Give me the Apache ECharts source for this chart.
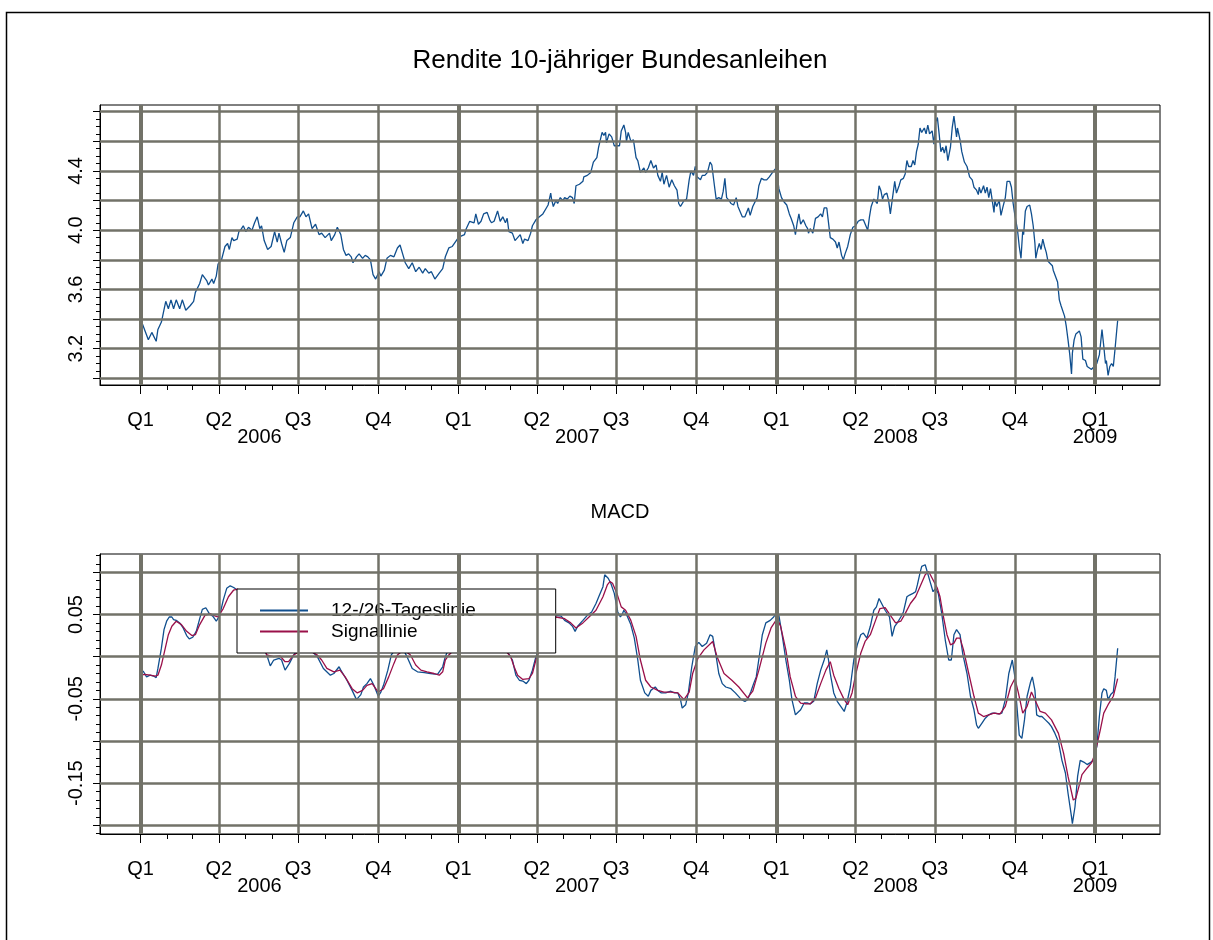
<!DOCTYPE html>
<html>
<head>
<meta charset="utf-8">
<title>Rendite 10-jähriger Bundesanleihen / MACD</title>
<script src="https://cdn.jsdelivr.net/npm/echarts@6/dist/echarts.min.js"></script>
<style>
  html, body { margin: 0; padding: 0; background: #fff; }
  #chart { width: 1213px; height: 940px; }
</style>
</head>
<body>
<div id="chart"></div>
<script>
// x = Tage seit 1.1.2006
const yieldDays = [
  0,2,9,13,18,20,24,29,32,35,38,41,45,48,52,57,61,63,68,71,76,78,82,84,87,89,93,97,100,102,
  105,107,111,113,116,118,121,124,128,131,134,137,139,142,146,150,154,157,159,162,165,168,172,176,180,183,187,190,193,197,
  201,205,208,212,217,219,223,226,230,233,236,239,242,244,248,251,255,258,261,264,267,270,274,276,280,283,287,291,295,298,
  301,304,308,312,316,320,324,327,331,334,338,343,347,350,354,358,
  360,365,368,372,374,378,380,383,385,388,391,394,398,401,403,406,410,413,416,419,421,423,427,430,433,436,439,441,445,448,
  450,454,458,462,466,468,471,472,474,477,479,482,485,487,490,493,496,498,500,504,508,509,513,517,520,524,526,528,530,532,
  534,535,538,541,544,547,550,552,555,557,558,560,563,566,569,571,574,578,580,583,586,589,592,594,597,599,601,604,607,610,
  613,616,618,620,624,627,630,632,635,637,639,643,645,648,651,654,656,659,661,664,667,669,671,673,676,678,681,684,686,688,
  691,694,696,698,700,703,705,708,710,713,716,719,722,724,727,730,732,
  733,736,739,742,745,747,750,752,754,756,758,761,764,766,767,769,772,775,778,781,783,785,788,790,792,795,798,800,802,805,
  807,809,812,815,818,821,824,827,830,832,835,837,839,842,844,846,848,850,852,854,857,859,861,863,866,868,871,873,876,878,
  880,882,885,887,889,891,893,895,897,900,902,904,906,909,911,913,915,917,919,921,923,925,927,930,932,934,937,938,941,943,
  946,949,952,955,957,960,962,963,965,968,970,972,974,976,978,980,981,983,986,988,990,993,995,998,1000,1002,1004,1006,1007,1009,
  1011,1013,1014,1016,1018,1021,1023,1025,1027,1028,1030,1032,1034,1036,1038,1040,1042,1044,1047,1048,1050,1053,1055,1057,1059,1061,1063,1065,1067,1069,
  1070,1072,1074,1076,1078,1080,1082,1085,1087,1089,1092,1095,1098,1101,1104,1106,1108,1109,1111,1113,1115,1117,1119,1121,1122
];
const yieldValues = [
  3.29,3.37,3.26,3.31,3.25,3.33,3.38,3.52,3.47,3.53,3.47,3.53,3.47,3.53,3.46,3.49,3.52,3.58,3.64,3.70,3.66,3.63,3.67,3.64,3.69,3.77,3.80,3.89,3.91,3.87,
  3.95,3.93,3.94,3.99,4.01,4.03,3.99,4.02,4.00,4.05,4.09,4.01,4.03,3.93,3.87,3.89,3.99,3.92,3.98,3.91,3.85,3.93,3.95,4.05,4.09,4.09,4.13,4.09,4.11,4.01,
  4.04,3.97,3.98,3.95,3.98,3.93,3.97,4.02,3.97,3.87,3.83,3.84,3.82,3.78,3.82,3.84,3.81,3.83,3.82,3.80,3.70,3.67,3.72,3.69,3.73,3.81,3.83,3.82,3.88,3.90,
  3.84,3.78,3.74,3.78,3.72,3.75,3.71,3.74,3.71,3.72,3.67,3.71,3.74,3.82,3.88,3.89,
  3.90,3.95,3.96,3.97,4.01,4.06,4.07,4.05,4.11,4.04,4.06,4.11,4.12,4.07,4.05,4.06,4.13,4.06,4.09,4.05,4.08,3.99,3.98,3.93,3.95,3.97,3.91,3.94,3.93,3.98,
  4.03,4.07,4.09,4.11,4.15,4.17,4.25,4.21,4.16,4.20,4.18,4.22,4.20,4.22,4.21,4.23,4.22,4.18,4.30,4.31,4.33,4.36,4.37,4.39,4.46,4.49,4.56,4.55,4.66,4.64,
  4.66,4.59,4.65,4.63,4.57,4.57,4.57,4.67,4.71,4.66,4.60,4.66,4.60,4.61,4.49,4.47,4.39,4.42,4.39,4.42,4.47,4.42,4.44,4.37,4.33,4.39,4.31,4.37,4.29,4.34,
  4.30,4.27,4.18,4.16,4.20,4.21,4.34,4.40,4.37,4.43,4.36,4.34,4.37,4.37,4.39,4.46,4.44,4.30,4.21,4.22,4.21,4.26,4.35,4.22,4.20,4.18,4.17,4.22,4.16,4.15,
  4.09,4.09,4.08,4.15,4.10,4.16,4.16,4.22,4.30,4.35,4.34,4.34,4.36,4.37,4.40,4.42,4.42,
  4.28,4.22,4.19,4.17,4.11,4.08,4.03,3.97,4.05,4.11,4.04,4.07,4.03,4.01,3.98,4.01,3.98,4.08,4.09,4.11,4.09,4.15,4.15,4.15,3.95,3.94,3.92,3.88,3.92,3.83,
  3.80,3.84,3.89,3.97,4.02,4.03,4.06,4.07,4.07,4.08,4.00,4.09,4.16,4.21,4.22,4.18,4.30,4.27,4.21,4.24,4.25,4.20,4.11,4.10,4.33,4.25,4.30,4.34,4.35,4.38,
  4.47,4.43,4.43,4.47,4.44,4.53,4.58,4.69,4.66,4.69,4.65,4.71,4.65,4.67,4.58,4.73,4.76,4.65,4.53,4.56,4.52,4.57,4.47,4.56,4.69,4.77,4.63,4.69,4.61,4.53,
  4.46,4.43,4.36,4.34,4.29,4.27,4.24,4.29,4.25,4.30,4.25,4.29,4.22,4.28,4.20,4.12,4.20,4.16,4.20,4.10,4.15,4.22,4.33,4.33,4.29,4.18,4.10,4.11,4.00,3.89,
  3.81,4.00,3.97,4.13,4.16,4.17,4.11,4.03,3.91,3.81,3.87,3.91,3.87,3.94,3.89,3.85,3.79,3.78,3.76,3.73,3.74,3.65,3.53,3.49,3.49,3.42,3.35,3.26,3.16,3.03,
  3.17,3.26,3.30,3.29,3.32,3.28,3.13,3.12,3.08,3.07,3.06,3.08,3.10,3.16,3.33,3.22,3.10,3.12,3.02,3.08,3.10,3.08,3.20,3.33,3.39
];

// MACD: [Tag, Wert]
const macdLine = [
  [0,-0.022],[3,-0.017],[7,-0.024],[11,-0.022],[15,-0.023],[18,-0.025],[20,-0.014],[24,0.010],[27,0.032],[30,0.042],
  [33,0.047],[36,0.047],[38,0.044],[41,0.043],[45,0.040],[49,0.034],[53,0.025],[56,0.021],[60,0.023],[64,0.030],
  [68,0.045],[71,0.056],[75,0.058],[79,0.051],[83,0.048],[87,0.042],[91,0.049],[95,0.067],[99,0.081],[103,0.084],
  [107,0.082],[111,0.079],[118,0.070],[126,0.050],[134,0.030],[141,0.010],[145,0.002],[149,-0.011],[153,-0.004],[159,-0.002],
  [162,-0.004],[166,-0.016],[171,-0.008],[176,0.002],[182,0.010],[189,0.012],[197,0.006],[203,0.000],[210,-0.014],[218,-0.022],
  [222,-0.020],[228,-0.012],[230,-0.016],[237,-0.028],[243,-0.040],[248,-0.051],[253,-0.045],[256,-0.036],[260,-0.032],[264,-0.026],
  [268,-0.034],[273,-0.047],[276,-0.042],[279,-0.034],[284,-0.016],[288,0.002],[295,0.012],[301,0.010],[306,0.000],[312,-0.014],
  [318,-0.018],[326,-0.019],[333,-0.020],[341,-0.021],[347,-0.012],[350,0.000],[356,0.015],[370,0.025],[385,0.030],[400,0.025],
  [415,0.012],[423,0.003],[427,-0.004],[431,-0.022],[435,-0.028],[439,-0.029],[443,-0.032],[446,-0.028],[450,-0.016],[454,0.000],
  [462,0.020],[470,0.040],[477,0.049],[483,0.048],[487,0.043],[492,0.040],[496,0.036],[499,0.030],[502,0.036],[508,0.043],
  [513,0.049],[518,0.053],[523,0.063],[527,0.073],[531,0.083],[533,0.097],[534,0.098],[537,0.093],[540,0.087],[544,0.075],
  [548,0.053],[551,0.047],[553,0.050],[555,0.055],[558,0.050],[563,0.038],[567,0.022],[571,-0.004],[574,-0.028],[579,-0.043],
  [583,-0.047],[586,-0.040],[591,-0.036],[594,-0.040],[598,-0.043],[603,-0.043],[609,-0.041],[613,-0.043],[617,-0.043],[620,-0.051],
  [622,-0.061],[626,-0.057],[629,-0.043],[633,-0.012],[637,0.012],[641,0.017],[645,0.012],[650,0.016],[654,0.026],[657,0.024],
  [661,0.000],[664,-0.020],[668,-0.032],[672,-0.036],[678,-0.038],[683,-0.043],[690,-0.051],[694,-0.053],[697,-0.051],[701,-0.041],
  [704,-0.032],[707,-0.024],[711,0.004],[714,0.026],[718,0.040],[723,0.043],[727,0.047],[731,0.053],[733,0.049],[737,0.024],
  [741,-0.004],[745,-0.028],[748,-0.051],[752,-0.069],[754,-0.071],[758,-0.063],[762,-0.055],[766,-0.055],[769,-0.056],[773,-0.053],
  [777,-0.032],[781,-0.016],[785,-0.004],[788,0.008],[790,-0.004],[792,-0.020],[796,-0.043],[800,-0.053],[804,-0.059],[808,-0.065],
  [811,-0.055],[815,-0.036],[819,-0.004],[823,0.014],[827,0.026],[830,0.028],[834,0.022],[838,0.036],[842,0.055],[845,0.059],
  [848,0.069],[852,0.061],[855,0.055],[860,0.047],[863,0.024],[866,0.036],[869,0.040],[873,0.047],[876,0.053],[880,0.071],
  [883,0.073],[887,0.075],[890,0.077],[892,0.085],[895,0.099],[897,0.107],[901,0.109],[903,0.107],[906,0.091],[910,0.077],
  [913,0.081],[916,0.075],[920,0.051],[924,0.020],[928,-0.004],[931,-0.004],[934,0.026],[937,0.032],[941,0.026],[944,0.004],
  [949,-0.020],[953,-0.047],[957,-0.063],[960,-0.081],[962,-0.085],[966,-0.079],[970,-0.073],[974,-0.069],[978,-0.067],[981,-0.067],
  [985,-0.068],[989,-0.067],[993,-0.051],[997,-0.020],[1001,-0.004],[1004,-0.024],[1006,-0.055],[1009,-0.093],[1012,-0.097],[1015,-0.075],
  [1018,-0.047],[1022,-0.030],[1024,-0.024],[1027,-0.040],[1029,-0.069],[1032,-0.071],[1035,-0.071],[1039,-0.075],[1043,-0.079],[1046,-0.083],
  [1050,-0.091],[1054,-0.101],[1058,-0.123],[1062,-0.138],[1065,-0.162],[1069,-0.190],[1070,-0.198],[1073,-0.178],[1076,-0.142],[1079,-0.123],
  [1083,-0.125],[1087,-0.128],[1090,-0.126],[1094,-0.123],[1098,-0.107],[1101,-0.071],[1104,-0.043],[1106,-0.038],[1109,-0.040],[1111,-0.051],
  [1114,-0.045],[1117,-0.042],[1119,-0.024],[1122,0.010]
];
const signalLine = [
  [0,-0.022],[5,-0.021],[11,-0.022],[17,-0.023],[20,-0.022],[24,-0.010],[28,0.008],[32,0.026],[36,0.036],[41,0.042],
  [47,0.038],[53,0.030],[59,0.025],[63,0.026],[68,0.038],[74,0.049],[80,0.051],[86,0.048],[89,0.047],[95,0.057],
  [101,0.071],[107,0.079],[111,0.080],[118,0.077],[126,0.062],[134,0.040],[141,0.015],[145,0.002],[153,0.000],[160,0.001],
  [166,-0.006],[170,-0.006],[176,0.002],[189,0.010],[203,0.002],[208,-0.004],[214,-0.014],[222,-0.018],[229,-0.016],[235,-0.024],
  [243,-0.038],[249,-0.043],[255,-0.040],[260,-0.034],[266,-0.032],[273,-0.042],[279,-0.038],[285,-0.024],[291,-0.008],[295,0.002],
  [302,0.008],[310,0.002],[316,-0.010],[322,-0.016],[329,-0.018],[337,-0.020],[343,-0.022],[347,-0.018],[350,-0.004],[354,0.002],
  [370,0.018],[385,0.026],[400,0.024],[415,0.012],[425,0.000],[429,-0.012],[433,-0.022],[439,-0.027],[446,-0.026],[450,-0.020],
  [454,-0.004],[465,0.030],[477,0.047],[487,0.045],[494,0.040],[500,0.034],[508,0.040],[515,0.047],[523,0.055],[531,0.071],
  [536,0.085],[539,0.089],[542,0.087],[547,0.075],[552,0.059],[557,0.055],[563,0.043],[569,0.024],[574,-0.004],[580,-0.028],
  [586,-0.036],[594,-0.040],[601,-0.042],[609,-0.042],[617,-0.043],[624,-0.051],[626,-0.053],[630,-0.042],[634,-0.020],[640,-0.002],
  [647,0.008],[657,0.018],[662,0.000],[670,-0.020],[679,-0.028],[687,-0.036],[697,-0.049],[703,-0.041],[710,-0.016],[718,0.016],
  [724,0.034],[731,0.045],[735,0.036],[741,0.008],[746,-0.024],[752,-0.047],[758,-0.055],[764,-0.056],[769,-0.056],[775,-0.049],
  [781,-0.032],[787,-0.016],[792,-0.006],[796,-0.022],[802,-0.038],[808,-0.051],[812,-0.057],[817,-0.043],[821,-0.022],[827,0.004],
  [832,0.018],[838,0.026],[844,0.043],[849,0.057],[855,0.058],[861,0.049],[867,0.040],[873,0.042],[878,0.051],[884,0.063],
  [890,0.071],[895,0.083],[901,0.097],[905,0.101],[909,0.093],[915,0.081],[918,0.071],[922,0.047],[926,0.026],[930,0.014],
  [934,0.016],[937,0.022],[941,0.022],[945,0.008],[951,-0.020],[957,-0.047],[962,-0.067],[968,-0.071],[974,-0.069],[980,-0.067],
  [987,-0.068],[993,-0.059],[999,-0.036],[1004,-0.026],[1008,-0.043],[1013,-0.067],[1018,-0.059],[1023,-0.042],[1027,-0.051],[1033,-0.065],
  [1039,-0.067],[1046,-0.075],[1054,-0.091],[1060,-0.115],[1065,-0.142],[1071,-0.170],[1074,-0.168],[1077,-0.156],[1081,-0.140],[1087,-0.132],
  [1092,-0.126],[1096,-0.115],[1102,-0.087],[1106,-0.067],[1111,-0.057],[1117,-0.047],[1122,-0.026]
];

const seriesNames = ['12-/26-Tageslinie', 'Signallinie'];
const yieldLabelValues = [3.2, 3.6, 4.0, 4.4];
const yieldGridValues = [3.0, 3.2, 3.4, 3.6, 3.8, 4.0, 4.2, 4.4, 4.6, 4.8];
const macdLabelValues = [-0.15, -0.05, 0.05];
const macdGridValues = [-0.20, -0.15, -0.10, -0.05, 0, 0.05, 0.10];

const FONT = 'Liberation Sans, Arial, sans-serif';
const DAY0 = Date.UTC(2006, 0, 1);
const X_MIN = -46.5, X_MAX = 1170.6;
const GRID_COLOR = '#727268';
const BLUE = '#104f8e';
const RED = '#9a1049';

function dayOf(y, m) {
  return Math.round((Date.UTC(y, m, 1) - DAY0) / 864e5);
}
function dateOf(d) {
  return new Date(DAY0 + d * 864e5);
}

// Monats- und Quartalsanfaenge im Datenbereich
const monthDays = [];
const quarterDays = [];
const yearStarts = [];
for (let y = 2006; y <= 2009; y++) {
  for (let m = 0; m < 12; m++) {
    const d = dayOf(y, m);
    if (d > 1127) break;
    monthDays.push(d);
    if (m % 3 === 0 && d <= X_MAX) quarterDays.push(d);
    if (m === 0) yearStarts.push(d);
  }
}
// Jahreszahl mittig unter den Quartalen des Jahres
const yearLabelDays = yearStarts.map(function (s) {
  const q = quarterDays.filter(d => dateOf(d).getUTCFullYear() === dateOf(s).getUTCFullYear());
  return (q[0] + q[q.length - 1]) / 2;
});

function steps(from, to, step) {
  const out = [];
  for (let v = from; v <= to + 1e-9; v += step) out.push(Math.round(v * 1000) / 1000);
  return out;
}

const grids = [
  { left: 100, top: 105, width: 1060, height: 280, yMin: 2.955, yMax: 4.845,
    labels: yieldLabelValues, gridVals: yieldGridValues, minor: steps(3.0, 4.8, 0.05), digits: 1 },
  { left: 100, top: 554, width: 1060, height: 280, yMin: -0.2103, yMax: 0.1217,
    labels: macdLabelValues, gridVals: macdGridValues, minor: steps(-0.21, 0.12, 0.01), digits: 2 }
];

const xAxis = [];
const yAxis = [];
grids.forEach(function (g, gi) {
  xAxis.push(
    { type: 'value', gridIndex: gi, position: 'bottom', min: X_MIN, max: X_MAX,
      axisLine: { show: true, onZero: false, lineStyle: { color: '#000', width: 1 } },
      axisTick: { show: true, customValues: quarterDays, length: 9, lineStyle: { color: '#000' } },
      axisLabel: { show: true, customValues: quarterDays, margin: 25, color: '#000', fontSize: 20, fontFamily: FONT,
        formatter: v => 'Q' + (Math.floor(dateOf(v).getUTCMonth() / 3) + 1) },
      splitLine: { show: false } },
    { type: 'value', gridIndex: gi, position: 'bottom', min: X_MIN, max: X_MAX,
      axisLine: { show: false, onZero: false },
      axisTick: { show: true, customValues: monthDays, length: 5, lineStyle: { color: '#000' } },
      axisLabel: { show: false }, splitLine: { show: false } },
    { type: 'value', gridIndex: gi, position: 'bottom', min: X_MIN, max: X_MAX,
      axisLine: { show: false, onZero: false }, axisTick: { show: false },
      axisLabel: { show: true, customValues: yearLabelDays, margin: 42, color: '#000', fontSize: 20, fontFamily: FONT,
        formatter: v => String(dateOf(v).getUTCFullYear()) },
      splitLine: { show: false } }
  );
  yAxis.push(
    { type: 'value', gridIndex: gi, position: 'left', min: g.yMin, max: g.yMax,
      axisLine: { show: true, onZero: false, lineStyle: { color: '#000', width: 1 } },
      axisTick: { show: true, customValues: g.gridVals, length: 7, lineStyle: { color: '#000' } },
      axisLabel: { show: true, customValues: g.labels, rotate: 90, margin: 14, color: '#000', fontSize: 20, fontFamily: FONT,
        formatter: v => v.toFixed(g.digits) },
      splitLine: { show: false } },
    { type: 'value', gridIndex: gi, position: 'left', min: g.yMin, max: g.yMax,
      axisLine: { show: false, onZero: false },
      axisTick: { show: true, customValues: g.minor, length: 4, lineStyle: { color: '#000' } },
      axisLabel: { show: false }, splitLine: { show: false } }
  );
});

function gridLines(gi) {
  const g = grids[gi];
  const lines = g.gridVals.map(v => ({ yAxis: v, lineStyle: { color: GRID_COLOR, width: 2.5, type: 'solid' } }));
  quarterDays.forEach(function (d) {
    const isYear = yearStarts.indexOf(d) >= 0;
    lines.push({ xAxis: d, lineStyle: { color: GRID_COLOR, width: isYear ? 4 : 2.5, type: 'solid' } });
  });
  return {
    type: 'line', xAxisIndex: gi * 3, yAxisIndex: gi * 2, data: [], z: 1, silent: true,
    markLine: { silent: true, symbol: 'none', label: { show: false }, animation: false, data: lines }
  };
}

const chart = echarts.init(document.getElementById('chart'));
chart.setOption({
  animation: false,
  backgroundColor: '#fff',
  title: [
    { text: 'Rendite 10-jähriger Bundesanleihen', left: 620, top: 48, textAlign: 'center', padding: 0,
      textStyle: { fontSize: 26, fontWeight: 'normal', color: '#000', fontFamily: FONT } },
    { text: 'MACD', left: 620, top: 502, textAlign: 'center', padding: 0,
      textStyle: { fontSize: 20, fontWeight: 'normal', color: '#000', fontFamily: FONT } }
  ],
  grid: grids.map(g => ({ left: g.left, top: g.top, width: g.width, height: g.height,
    show: true, borderColor: '#000', borderWidth: 1, backgroundColor: 'transparent' })),
  legend: {
    data: seriesNames, orient: 'vertical', left: 237, top: 589,
    backgroundColor: '#fff', borderColor: '#000', borderWidth: 1, borderRadius: 0,
    padding: [11, 80, 11, 23], icon: 'rect', itemWidth: 48, itemHeight: 2, itemGap: 0,
    textStyle: { fontSize: 19, lineHeight: 21, color: '#000', fontFamily: FONT, padding: [0, 0, 0, 18] }
  },
  xAxis: xAxis,
  yAxis: yAxis,
  graphic: [
    { type: 'rect', silent: true, z: 100, shape: { x: 6.5, y: 12.5, width: 1203, height: 945 },
      style: { fill: 'none', stroke: '#000', lineWidth: 1.5 } }
  ],
  series: [
    gridLines(0),
    { name: 'Rendite', type: 'line', xAxisIndex: 0, yAxisIndex: 0, z: 3, symbol: 'none',
      data: yieldDays.map((d, i) => [d, yieldValues[i]]),
      lineStyle: { color: BLUE, width: 1.3 } },
    gridLines(1),
    { name: seriesNames[0], type: 'line', xAxisIndex: 3, yAxisIndex: 2, z: 3, symbol: 'none',
      data: macdLine, color: BLUE, lineStyle: { color: BLUE, width: 1.3 } },
    { name: seriesNames[1], type: 'line', xAxisIndex: 3, yAxisIndex: 2, z: 3, symbol: 'none',
      data: signalLine, color: RED, lineStyle: { color: RED, width: 1.3 } }
  ]
});
</script>
</body>
</html>
